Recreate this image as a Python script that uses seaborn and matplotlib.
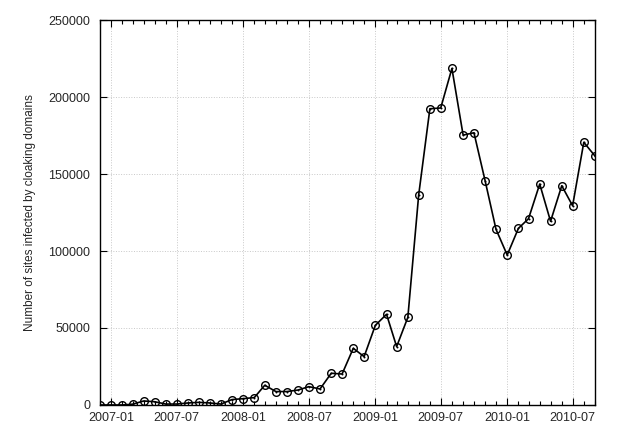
import matplotlib
matplotlib.use("Agg")
import matplotlib.pyplot as plt
import matplotlib.dates as mdates
import pandas as pd
import seaborn as sns

# monthly counts, 2006-12 .. 2010-09
months = pd.date_range("2006-12-01", "2010-09-01", freq="MS")
infected = [0, 0, 0, 500, 2600, 2100, 600, 600, 1300, 1700, 1300, 600,
            3500, 4100, 4800, 12800, 8700, 8700, 9700, 11900, 10400, 20600, 20100, 36800,
            31400, 51700, 58900, 37900, 56900, 136400, 192400, 192900, 218600, 175300, 176800, 145500,
            114100, 97400, 114700, 121000, 143500, 119300, 142400, 129400, 170600, 161700]

df = pd.DataFrame({"month": months, "sites": infected})

sns.set_style("ticks")
plt.rcParams["font.family"] = ["Liberation Sans", "DejaVu Sans"]

fig = plt.figure(figsize=(6.25, 4.46), dpi=100)
ax = fig.add_axes([0.16, 0.092, 0.792, 0.863])

sns.lineplot(data=df, x="month", y="sites", ax=ax, color="black", linewidth=1.2,
             marker="o", markersize=5.5, markerfacecolor="none",
             markeredgecolor="black", markeredgewidth=1.0)
# little centre dot, like the gnuplot point style
sns.scatterplot(data=df, x="month", y="sites", ax=ax, color="black", s=2, linewidth=0)

ax.set_xlim(months[0], months[-1])
ax.set_ylim(0, 250000)
ax.set_yticks(range(0, 250001, 50000))
ax.xaxis.set_major_locator(mdates.MonthLocator(bymonth=[1, 7]))
ax.xaxis.set_minor_locator(mdates.MonthLocator())
ax.xaxis.set_major_formatter(mdates.DateFormatter("%Y-%m"))

ax.tick_params(which="both", direction="in", top=True, right=True, labelsize=9, color="black")
ax.tick_params(which="major", length=5, width=0.8)
ax.tick_params(which="minor", length=3, width=0.8)
ax.tick_params(axis="y", pad=7)
ax.tick_params(axis="x", pad=5)
ax.grid(True, which="major", linestyle=":", color="#c8c8c8", linewidth=0.7)
for s in ax.spines.values():
    s.set_linewidth(1.0)
    s.set_color("black")

ax.set_xlabel("")
ax.set_ylabel("Number of sites infected by cloaking domains", fontsize=8.5, labelpad=9)

fig.savefig("out.png", dpi=100)
